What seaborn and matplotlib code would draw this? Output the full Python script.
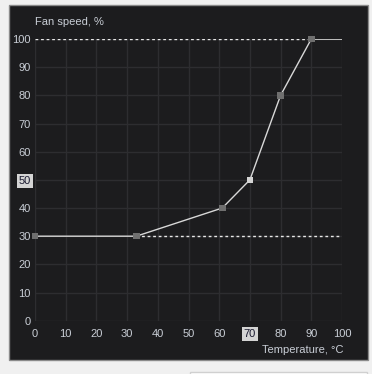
import matplotlib
matplotlib.use("Agg")
import matplotlib.pyplot as plt
import matplotlib.patches as mpatches
import seaborn as sns
import pandas as pd

# fan curve points
temps = [0, 33, 61, 70, 80, 90]
speeds = [30, 30, 40, 50, 80, 100]
selected_temp = 70
selected_speed = 50
tick_values = [0, 10, 20, 30, 40, 50, 60, 70, 80, 90, 100]

PANEL = '#1c1c1e'
GRID = '#2d2d30'
TEXT = '#c9ced6'

sns.set_style('dark')
plt.rcParams['font.family'] = ['Arial', 'Liberation Sans', 'DejaVu Sans']

df = pd.DataFrame({'temp': temps, 'speed': speeds})

fig = plt.figure(figsize=(3.72, 3.74), dpi=100)
fig.patch.set_facecolor('#f0f0f0')

# dark panel behind the chart
panel = mpatches.Rectangle((9 / 372, 1 - 360 / 374), 359 / 372, 355 / 374,
                           transform=fig.transFigure, facecolor=PANEL,
                           edgecolor='#8a8a8a', linewidth=1.0, zorder=-5)
fig.add_artist(panel)
# white box peeking in at the bottom
box = mpatches.Rectangle((190 / 372, -0.02), 177 / 372, 0.025,
                         transform=fig.transFigure, facecolor='white',
                         edgecolor='#d0d0d0', linewidth=1.0, zorder=-5)
fig.add_artist(box)

ax = fig.add_axes([35 / 372, 1 - 320.7 / 374, 307 / 372, 281.7 / 374])
ax.set_zorder(1)
ax.set_facecolor(PANEL)
ax.set_xlim(0, 100)
ax.set_ylim(0, 100)
for s in ax.spines.values():
    s.set_visible(False)
ax.set_xticks(tick_values)
ax.set_yticks(tick_values)
ax.grid(True, color=GRID, linewidth=1.0)
ax.tick_params(axis='both', length=0, labelsize=8, colors=TEXT)
ax.tick_params(axis='y', pad=3)
ax.tick_params(axis='x', pad=6)

# dotted guide lines
ax.plot([0, temps[-1]], [speeds[-1], speeds[-1]], color='#e8e8e8',
        linestyle=(0, (2, 2)), linewidth=1.0, zorder=2)
ax.plot([temps[1], 100], [speeds[0], speeds[0]], color='#e8e8e8',
        linestyle=(0, (2, 2)), linewidth=1.0, zorder=2)

# curve
sns.lineplot(data=df, x='temp', y='speed', ax=ax, color='#d8d8d8',
             linewidth=1.0, zorder=3, clip_on=False)
ax.plot([temps[-1], 100], [speeds[-1], speeds[-1]], color='#d8d8d8',
        linewidth=1.2, zorder=3)

# points
sel = df[df['temp'] == selected_temp]
rest = df[df['temp'] != selected_temp]
sns.scatterplot(data=rest, x='temp', y='speed', ax=ax, marker='s', s=22,
                color='#6f6f6f', edgecolor='none', zorder=4, clip_on=False)
sns.scatterplot(data=sel, x='temp', y='speed', ax=ax, marker='s', s=22,
                color='#d4d4d4', edgecolor='none', zorder=4, clip_on=False)
ax.set_xlabel('')
ax.set_ylabel('')

# highlight selected tick labels
for lbl in ax.get_xticklabels():
    if lbl.get_text() == str(selected_temp):
        lbl.set_color('#1a1a30')
        lbl.set_bbox(dict(facecolor='#d4d4d4', edgecolor='none', pad=1.2))
for lbl in ax.get_yticklabels():
    if lbl.get_text() == str(selected_speed):
        lbl.set_color('#1a1a30')
        lbl.set_bbox(dict(facecolor='#d4d4d4', edgecolor='none', pad=1.2))

fig.text(35 / 372, 1 - 22 / 374, 'Fan speed, %', color=TEXT, fontsize=8,
         ha='left', va='center')
fig.text(343 / 372, 1 - 350 / 374, 'Temperature, °C', color=TEXT, fontsize=8,
         ha='right', va='center')

fig.savefig('out.png', dpi=100, facecolor=fig.get_facecolor())
